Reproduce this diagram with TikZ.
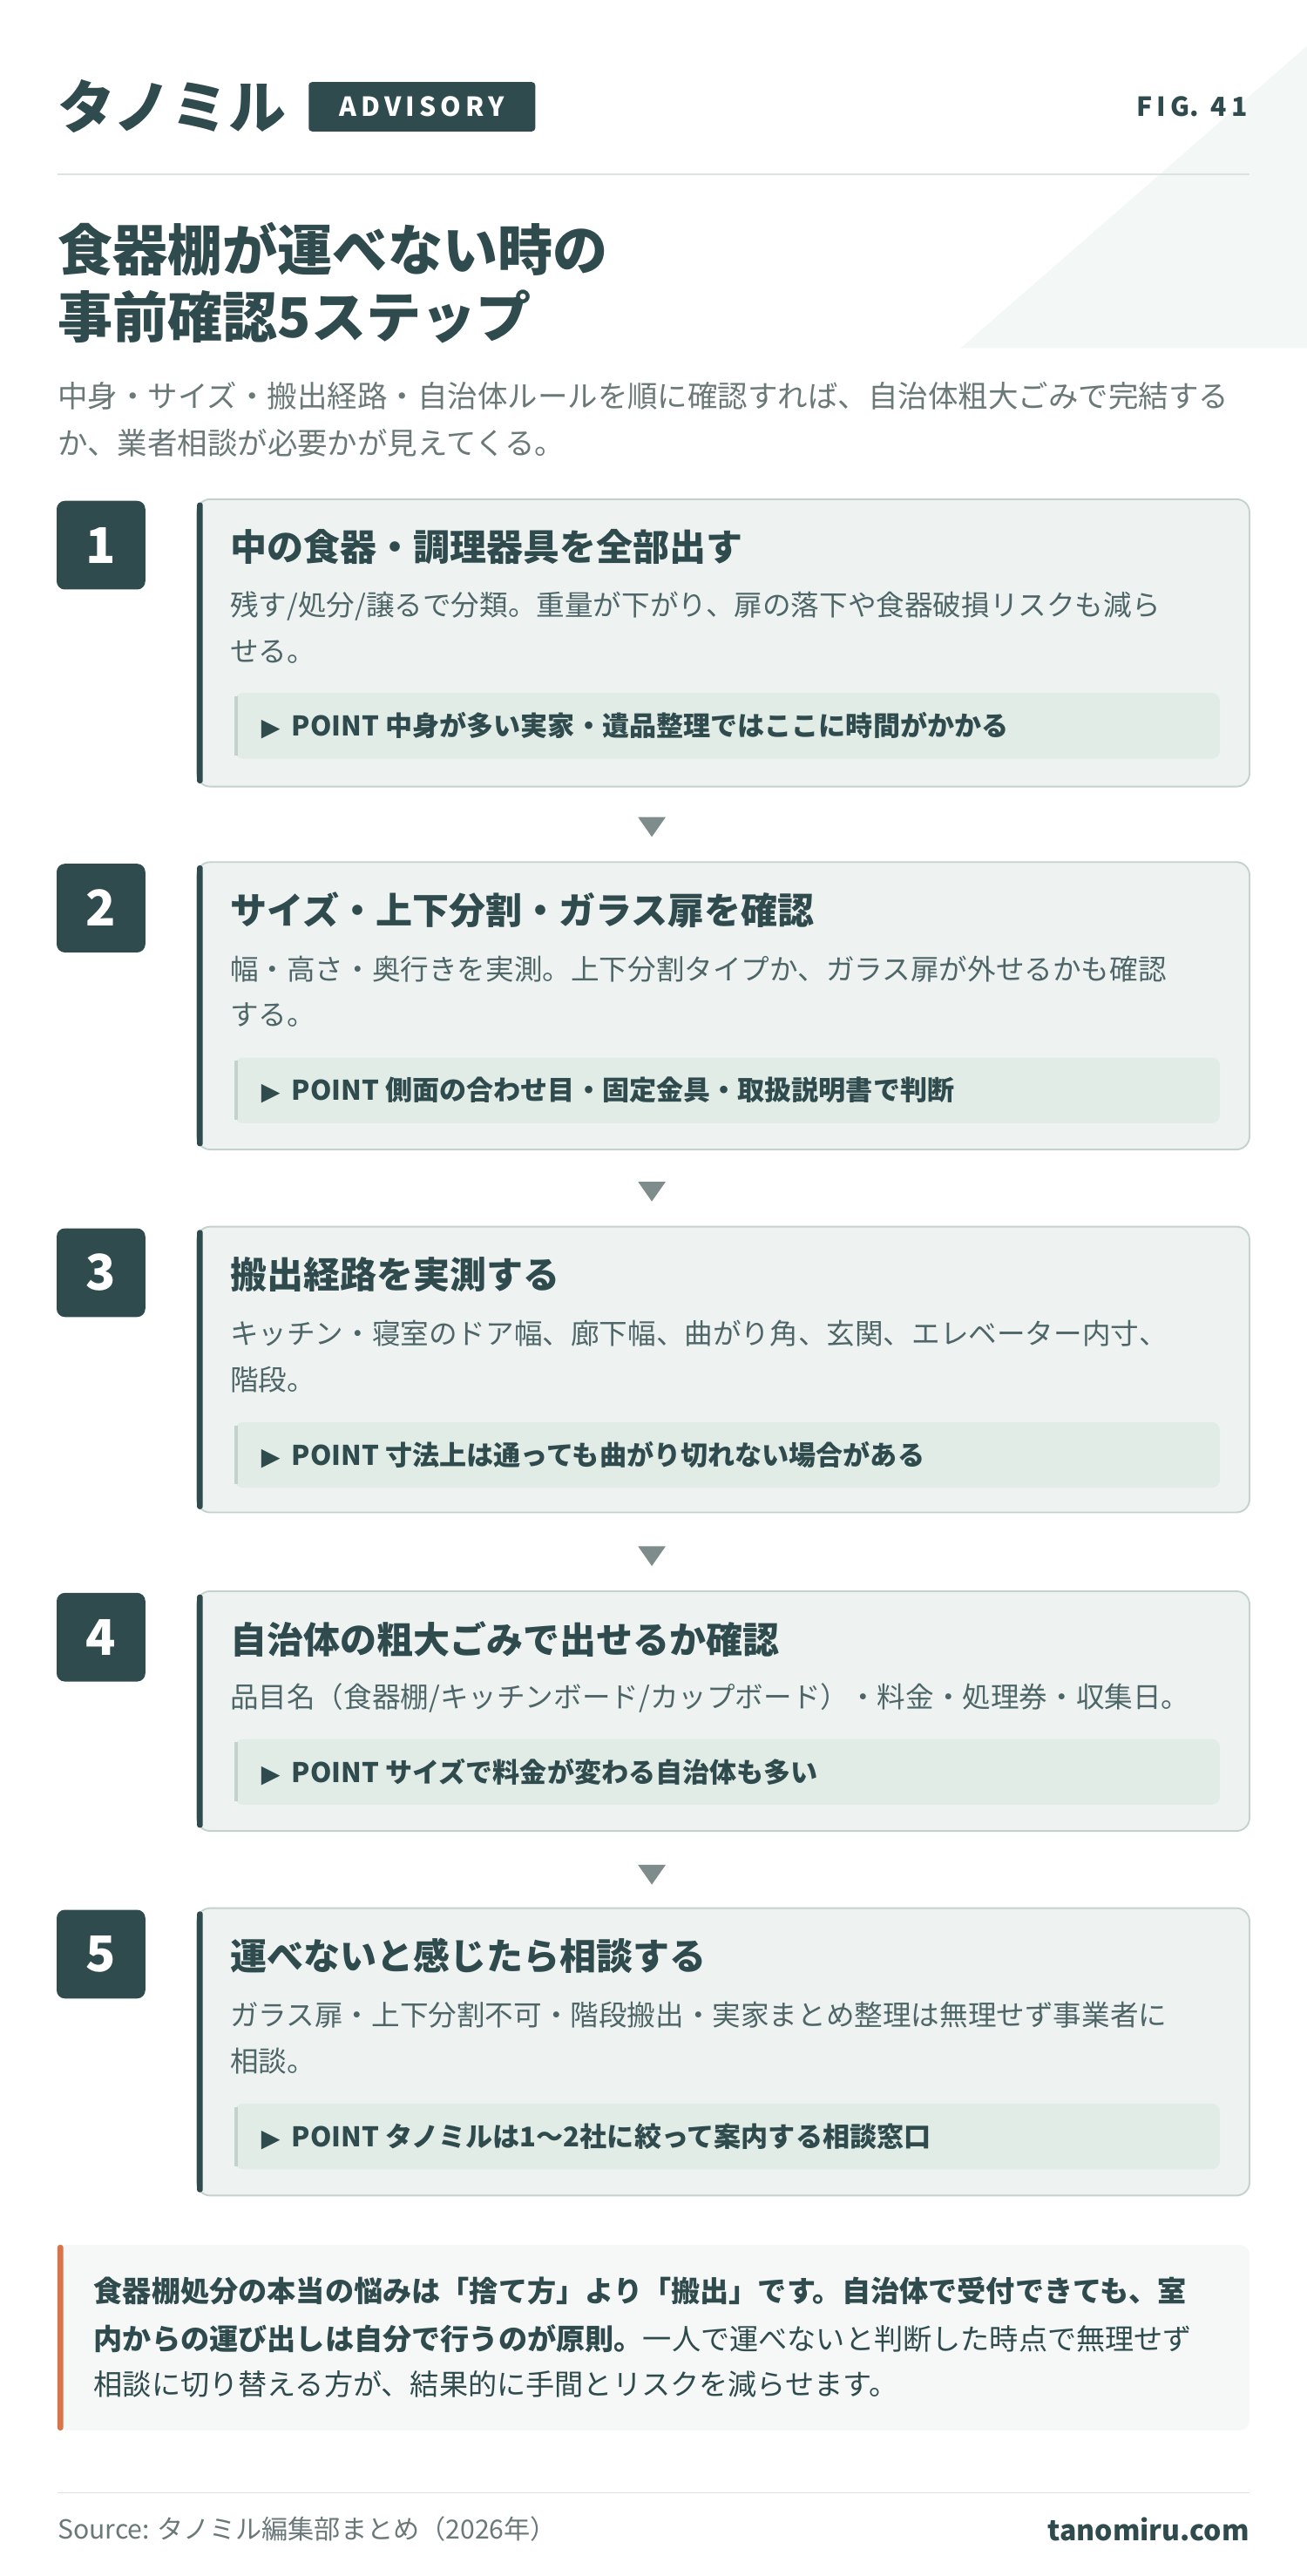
\documentclass[tikz,border=0pt]{standalone}
\usepackage{fontspec}
\setmainfont{Noto Sans CJK JP}
\newfontfamily\dejavu{DejaVu Sans}
\definecolor{dk}{HTML}{2F4B4D}
\definecolor{gr}{HTML}{6B7878}
\definecolor{cardf}{HTML}{EEF3F2}
\definecolor{cardb}{HTML}{C3D2CF}
\definecolor{ptf}{HTML}{E2ECE6}
\definecolor{org}{HTML}{D9744A}
\definecolor{arr}{HTML}{7E8C8C}
\usetikzlibrary{shapes.geometric}
\tikzset{
 lbl/.style={anchor=west,inner sep=0pt,text=dk},
 numbox/.style={fill=dk,rounded corners=5pt,minimum width=54pt,minimum height=54pt,text=white,font=\fontsize{30}{30}\selectfont\bfseries,inner sep=0pt},
 ttl/.style={lbl,font=\fontsize{22.3}{24}\selectfont\bfseries},
 dsc/.style={lbl,text=dk!85,font=\fontsize{17.3}{20}\selectfont},
 ptxt/.style={lbl,font=\fontsize{16.5}{18}\selectfont\bfseries},
 tri/.style={fill=arr,isosceles triangle,shape border rotate=-90,minimum width=15pt,minimum height=12pt,inner sep=0pt,isosceles triangle apex angle=70},
}
\newcommand{\mkcard}[7]{%
 \fill[cardf,draw=cardb,line width=1pt,rounded corners=8pt] (120,#1) rectangle (761,#2);
 \fill[dk,rounded corners=1.5pt] (120,#1+2) rectangle (123.5,#2-2);
 \node[numbox] (n#7) at (61.5,#1+28) {#3};
 \node[ttl] (t#7) at (140,#1+29) {#4};
 \node[dsc] (d#7) at (140,#1+65) {#5};
 \node[dsc] (e#7) at (140,#1+93) {#6};
}
\newcommand{\mkpoint}[3]{%
 \fill[ptf,rounded corners=5pt] (143,#1) rectangle (743,#1+40);
 \fill[cardb] (143,#1+2) rectangle (145,#1+38);
 \node[ptxt] (p#3) at (159,#1+20) {{\dejavu\fontsize{15}{15}\selectfont ▶}\hspace{7pt}POINT #2};
}
\begin{document}
\begin{tikzpicture}[x=1pt,y=-1pt]
\useasboundingbox[fill=white] (0,0) rectangle (796,1568.7);
\fill[cardf!70] (585,212) -- (796,212) -- (796,28) -- cycle;
\node[lbl,font=\fontsize{35}{35}\selectfont\bfseries] (logo) at (35,65) {タノミル};
\node[fill=dk,rounded corners=2pt,text=white,font=\fontsize{16}{16}\selectfont\bfseries,minimum width=138pt,minimum height=30pt,inner sep=0pt] (adv) at (257,65) {A\,D\,V\,I\,S\,O\,R\,Y};
\node[anchor=east,inner sep=0pt,text=dk,font=\fontsize{16}{16}\selectfont\bfseries] (fig) at (760,65) {F\,I\,G.\ \ 4\,1};
\draw[cardb!60,line width=1pt] (35,106) -- (761,106);
\node[lbl,font=\fontsize{33.5}{36}\selectfont\bfseries] (h1) at (35,152) {食器棚が運べない時の};
\node[lbl,font=\fontsize{33.5}{36}\selectfont\bfseries] (h2) at (35,193) {事前確認5ステップ};
\node[lbl,text=gr,font=\fontsize{18.3}{20}\selectfont] (s1) at (35,241) {中身・サイズ・搬出経路・自治体ルールを順に確認すれば、自治体粗大ごみで完結する};
\node[lbl,text=gr,font=\fontsize{18.3}{20}\selectfont] (s2) at (35,270) {か、業者相談が必要かが見えてくる。};
\mkcard{304}{479}{1}{中の食器・調理器具を全部出す}{残す/処分/譲るで分類。重量が下がり、扉の落下や食器破損リスクも減ら}{せる。}{a}
\mkpoint{422}{中身が多い実家・遺品整理ではここに時間がかかる}{a}
\mkcard{525}{700}{2}{サイズ・上下分割・ガラス扉を確認}{幅・高さ・奥行きを実測。上下分割タイプか、ガラス扉が外せるかも確認}{する。}{b}
\mkpoint{644}{側面の合わせ目・固定金具・取扱説明書で判断}{b}
\mkcard{747}{921}{3}{搬出経路を実測する}{キッチン・寝室のドア幅、廊下幅、曲がり角、玄関、エレベーター内寸、}{階段。}{c}
\mkpoint{866}{寸法上は通っても曲がり切れない場合がある}{c}
\mkcard{969}{1115}{4}{自治体の粗大ごみで出せるか確認}{品目名（食器棚/キッチンボード/カップボード）・料金・処理券・収集日。}{}{d}
\mkpoint{1059}{サイズで料金が変わる自治体も多い}{d}
\mkcard{1162}{1337}{5}{運べないと感じたら相談する}{ガラス扉・上下分割不可・階段搬出・実家まとめ整理は無理せず事業者に}{相談。}{e}
\mkpoint{1281}{タノミルは1〜2社に絞って案内する相談窓口}{e}
\foreach \y/\n in {502/1,724/2,946/3,1140/4} \node[tri] (ar\n) at (397,\y) {};
\fill[cardf!60!white,rounded corners=6pt] (35,1367) rectangle (761,1480);
\fill[org,rounded corners=1.5pt] (35,1367) rectangle (38.5,1480);
\node[lbl,font=\fontsize{17.6}{20}\selectfont\bfseries] (b1) at (57,1395) {食器棚処分の本当の悩みは「捨て方」より「搬出」です。自治体で受付できても、室};
\node[lbl,font=\fontsize{17.6}{20}\selectfont] (b2) at (57,1424) {\textbf{内からの運び出しは自分で行うのが原則。}一人で運べないと判断した時点で無理せず};
\node[lbl,font=\fontsize{17.6}{20}\selectfont] (b3) at (57,1452) {相談に切り替える方が、結果的に手間とリスクを減らせます。};
\draw[cardb!60,line width=1pt] (35,1518) -- (761,1518);
\node[lbl,text=gr,font=\fontsize{16}{18}\selectfont] (src) at (35,1540) {Source: タノミル編集部まとめ（2026年）};
\node[anchor=east,inner sep=0pt,text=dk,font=\fontsize{17}{18}\selectfont\bfseries] (url) at (761,1540) {tanomiru.com};
\end{tikzpicture}
\end{document}
